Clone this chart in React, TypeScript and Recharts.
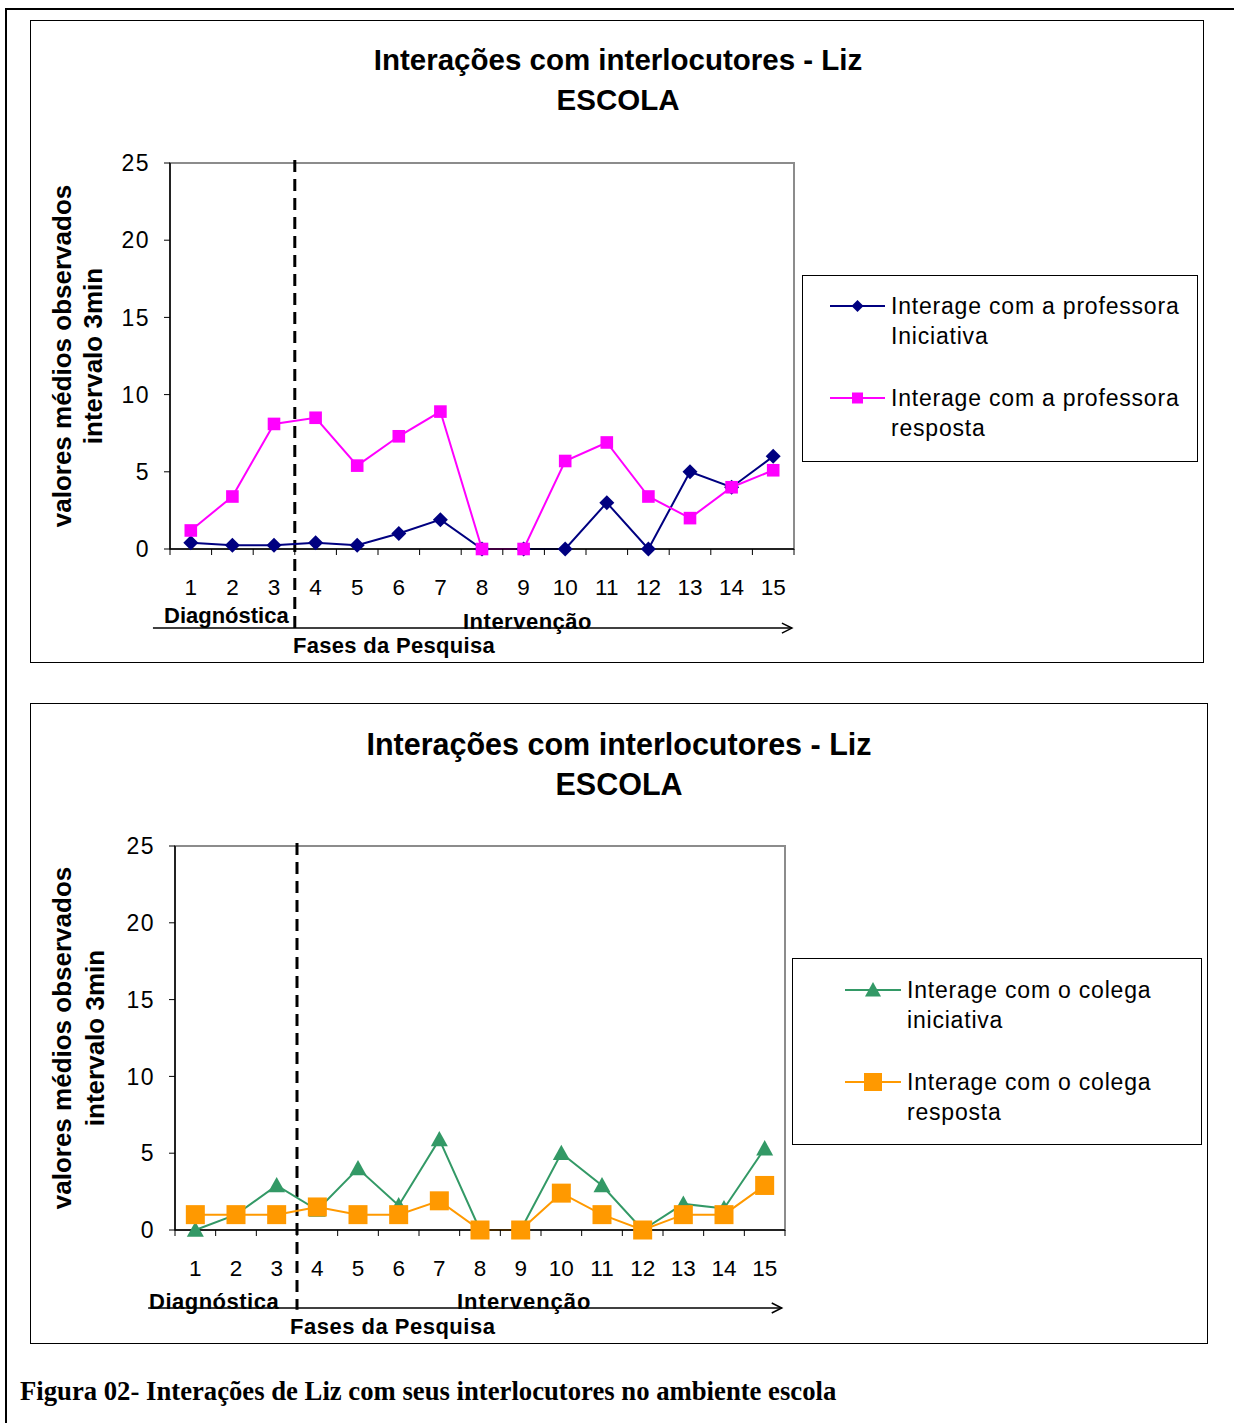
import React from 'react';
import {
  Legend,
  Line,
  LineChart,
  ReferenceArea,
  ReferenceLine,
  XAxis,
  YAxis,
} from 'recharts';

// sessões observadas (eixo x)
const sessions = [1, 2, 3, 4, 5, 6, 7, 8, 9, 10, 11, 12, 13, 14, 15];
const yTicks = [0, 5, 10, 15, 20, 25];

// gráfico 1 - professora
const profIniciativa = [0.4, 0.25, 0.25, 0.4, 0.25, 1, 1.9, 0, 0, 0, 3, 0, 5, 4, 6];
const profResposta = [1.2, 3.4, 8.1, 8.5, 5.4, 7.3, 8.9, 0, 0, 5.7, 6.9, 3.4, 2, 4, 5.1];

// gráfico 2 - colega
const colegaIniciativa = [0, 1, 2.9, 1.3, 4, 1.6, 5.9, 0, 0, 5, 2.9, 0, 1.7, 1.4, 5.3];
const colegaResposta = [1, 1, 1, 1.5, 1, 1, 1.9, 0, 0, 2.4, 1, 0, 1, 1, 2.9];

const chartTitle = 'Interações com interlocutores - Liz';
const chartSubtitle = 'ESCOLA';
const yTitle = ['valores médios observados', 'intervalo 3min'];
const xTitle = 'Fases da Pesquisa';
const phaseNames = ['Diagnóstica', 'Intervenção'];
const caption = 'Figura 02- Interações de Liz com seus interlocutores no ambiente escola';

const FONT = '"Liberation Sans", Arial, sans-serif';

const toRows = (a: number[], b: number[]) =>
  sessions.map((s, i) => ({ sessao: s, a: a[i], b: b[i] }));

const xTicks = [...sessions.flatMap((s) => [s - 0.5, s]), 15.5];

const Marker = ({ kind, cx, cy, r, fill }: any) => {
  if (kind === 'diamond')
    return (
      <polygon
        points={`${cx},${cy - r} ${cx + r},${cy} ${cx},${cy + r} ${cx - r},${cy}`}
        fill={fill}
      />
    );
  if (kind === 'triangle')
    return (
      <polygon
        points={`${cx},${cy - r} ${cx + r},${cy + r * 0.8} ${cx - r},${cy + r * 0.8}`}
        fill={fill}
      />
    );
  return <rect x={cx - r} y={cy - r} width={r * 2} height={r * 2} fill={fill} />;
};

const XTick = ({ x, y, payload }: any) => {
  const v = payload.value;
  if (!Number.isInteger(v)) {
    return <line x1={x} y1={y} x2={x} y2={y + 6} stroke="#000" />;
  }
  return (
    <text
      x={x}
      y={y + 38}
      textAnchor="middle"
      dominantBaseline="central"
      fontSize={22.5}
      fontFamily={FONT}
      fill="#000"
    >
      {v}
    </text>
  );
};

const ArrowShape = (props: any) => {
  const { x1, y1, x2, y2 } = props;
  return (
    <g>
      <line x1={x1} y1={y1} x2={x2} y2={y2} stroke="#000" strokeWidth={1.5} />
      <polyline
        points={`${x2 - 10},${y2 - 5} ${x2},${y2} ${x2 - 10},${y2 + 5}`}
        fill="none"
        stroke="#000"
        strokeWidth={1.5}
      />
    </g>
  );
};

type Series = { name: string; color: string; marker: string; r: number; legendR: number };

const Panel = ({ layout, rows, series }: { layout: any; rows: any[]; series: Series[] }) => {
  const L = layout;
  return (
    <div
      style={{
        position: 'absolute',
        left: L.left,
        top: L.top,
        width: L.width,
        height: L.height,
        border: '1px solid #000',
        boxSizing: 'border-box',
        background: '#fff',
      }}
    >
      <div
        style={{
          position: 'absolute',
          left: 0,
          width: L.titleCenter * 2,
          top: L.titleTop,
          textAlign: 'center',
          fontFamily: FONT,
          fontWeight: 'bold',
          fontSize: L.titleSize,
          lineHeight: '40px',
          color: '#000',
        }}
      >
        {chartTitle}
        <br />
        {chartSubtitle}
      </div>
      <div style={{ position: 'absolute', left: -1, top: -1 }}>
        <LineChart
          width={L.width}
          height={L.height}
          data={rows}
          margin={L.margin}
        >
          <XAxis
            dataKey="sessao"
            type="number"
            domain={[0.5, 15.5]}
            ticks={xTicks}
            interval={0}
            tickSize={0}
            tickMargin={0}
            tickLine={false}
            tick={<XTick />}
            axisLine={{ stroke: '#000', strokeWidth: 1.5 }}
            height={30}
          />
          <YAxis
            type="number"
            domain={[0, 25]}
            ticks={yTicks}
            interval={0}
            width={60}
            tickSize={6}
            tickMargin={14}
            tickLine={{ stroke: '#000' }}
            axisLine={{ stroke: '#000', strokeWidth: 1.5 }}
            tick={{ fontSize: 23, fontFamily: FONT, fill: '#000', letterSpacing: 1.5 }}
            label={{
              content: () => (
                <g>
                  {yTitle.map((t, i) => (
                    <text
                      key={t}
                      x={L.yTitleX[i]}
                      y={L.yTitleY}
                      transform={`rotate(-90 ${L.yTitleX[i]} ${L.yTitleY})`}
                      textAnchor="middle"
                      dominantBaseline="central"
                      fontSize={26}
                      fontWeight="bold"
                      fontFamily={FONT}
                      fill="#000"
                    >
                      {t}
                    </text>
                  ))}
                </g>
              ),
            }}
          />
          <ReferenceArea
            x1={0.5}
            x2={15.5}
            y1={0}
            y2={25}
            fill="none"
            stroke="#8c8c8c"
            strokeWidth={2}
            ifOverflow="visible"
          />
          <ReferenceLine
            segment={[
              { x: 3.5, y: 25.2 },
              { x: 3.5, y: -5.2 },
            ]}
            stroke="#000"
            strokeWidth={3}
            strokeDasharray="12 7"
            ifOverflow="visible"
          />
          <ReferenceLine
            segment={[
              { x: L.arrowFrom, y: L.arrowY },
              { x: L.arrowTo, y: L.arrowY },
            ]}
            ifOverflow="visible"
            shape={<ArrowShape />}
          />
          {series.map((s, idx) => (
            <Line
              key={s.name}
              dataKey={idx === 0 ? 'a' : 'b'}
              name={s.name}
              stroke={s.color}
              strokeWidth={2}
              isAnimationActive={false}
              dot={(p: any) => (
                <Marker key={p.index} kind={s.marker} cx={p.cx} cy={p.cy} r={s.r} fill={s.color} />
              )}
              activeDot={false}
            />
          ))}
          <Legend
            layout="horizontal"
            verticalAlign="middle"
            align="center"
            wrapperStyle={{
              position: 'absolute',
              left: L.legend.left,
              top: L.legend.top,
              width: L.legend.width,
              height: L.legend.height,
              border: '1px solid #000',
              boxSizing: 'border-box',
              background: '#fff',
            }}
            content={() => (
              <div style={{ position: 'relative', width: '100%', height: '100%' }}>
                {series.map((s, i) => (
                  <div
                    key={s.name}
                    style={{ position: 'absolute', left: 0, top: L.legend.itemTops[i] }}
                  >
                    <svg
                      width={L.legend.markerW}
                      height={30}
                      style={{ position: 'absolute', left: L.legend.markerLeft, top: 0 }}
                    >
                      <line x1={0} y1={15} x2={L.legend.markerW} y2={15} stroke={s.color} strokeWidth={2} />
                      <Marker kind={s.marker} cx={L.legend.markerW / 2} cy={15} r={s.legendR} fill={s.color} />
                    </svg>
                    <div
                      style={{
                        position: 'absolute',
                        left: L.legend.textLeft,
                        top: 0,
                        whiteSpace: 'pre',
                        fontFamily: FONT,
                        fontSize: 23,
                        letterSpacing: 0.8,
                        lineHeight: '30px',
                        color: '#000',
                      }}
                    >
                      {s.name}
                    </div>
                  </div>
                ))}
              </div>
            )}
          />
        </LineChart>
      </div>
      {[
        { text: phaseNames[0], ...L.diag },
        { text: phaseNames[1], ...L.interv },
        { text: xTitle, ...L.fases },
      ].map((t) => (
        <div
          key={t.text}
          style={{
            position: 'absolute',
            left: t.x,
            top: t.y - 13,
            lineHeight: '26px',
            fontFamily: FONT,
            fontWeight: 'bold',
            fontSize: 22,
            letterSpacing: t.ls ?? 0,
            whiteSpace: 'nowrap',
            color: '#000',
          }}
        >
          {t.text}
        </div>
      ))}
    </div>
  );
};

const topLayout = {
  left: 30,
  top: 20,
  width: 1174,
  height: 643,
  margin: { top: 143, left: 80, right: 410, bottom: 84 },
  titleCenter: 587,
  titleTop: 19,
  titleSize: 29.5,
  yTitleX: [32, 63],
  yTitleY: 336,
  arrowFrom: 0.09,
  arrowTo: 15.45,
  arrowY: -5.12,
  legend: {
    left: 772,
    top: 255,
    width: 396,
    height: 187,
    itemTops: [15, 107],
    markerLeft: 27,
    markerW: 55,
    textLeft: 88,
  },
  diag: { x: 133, y: 595, ls: 0 },
  interv: { x: 432, y: 601, ls: 0.5 },
  fases: { x: 262, y: 625, ls: 0.3 },
};

const bottomLayout = {
  left: 30,
  top: 703,
  width: 1178,
  height: 641,
  margin: { top: 143, left: 85, right: 423, bottom: 84 },
  titleCenter: 588,
  titleTop: 20,
  titleSize: 30.5,
  yTitleX: [32, 65],
  yTitleY: 335,
  arrowFrom: -0.16,
  arrowTo: 15.42,
  arrowY: -5.08,
  legend: {
    left: 762,
    top: 255,
    width: 410,
    height: 187,
    itemTops: [16, 108],
    markerLeft: 52,
    markerW: 56,
    textLeft: 114,
  },
  diag: { x: 118, y: 598, ls: 0.5 },
  interv: { x: 426, y: 598, ls: 1 },
  fases: { x: 259, y: 623, ls: 0.5 },
};

const profSeries: Series[] = [
  { name: 'Interage com a professora\nIniciativa', color: '#000080', marker: 'diamond', r: 7.5, legendR: 6 },
  { name: 'Interage com a professora\nresposta', color: '#ff00ff', marker: 'square', r: 6.3, legendR: 5.5 },
];

const colegaSeries: Series[] = [
  { name: 'Interage com o colega\niniciativa', color: '#339966', marker: 'triangle', r: 8.5, legendR: 8 },
  { name: 'Interage com o colega\nresposta', color: '#ff9900', marker: 'square', r: 9.5, legendR: 9 },
];

export default function App() {
  return (
    <div
      style={{
        position: 'absolute',
        left: 0,
        top: 0,
        width: 1234,
        height: 1423,
        overflow: 'hidden',
        background: '#fff',
      }}
    >
      <div
        style={{
          position: 'absolute',
          left: 5,
          top: 8,
          width: 1260,
          height: 1440,
          borderTop: '2px solid #000',
          borderLeft: '2px solid #000',
        }}
      />
      <Panel layout={topLayout} rows={toRows(profIniciativa, profResposta)} series={profSeries} />
      <Panel layout={bottomLayout} rows={toRows(colegaIniciativa, colegaResposta)} series={colegaSeries} />
      <div
        style={{
          position: 'absolute',
          left: 20,
          top: 1375,
          lineHeight: '32px',
          fontFamily: '"Liberation Serif", "Times New Roman", serif',
          fontWeight: 'bold',
          fontSize: 26.7,
          whiteSpace: 'nowrap',
          color: '#000',
        }}
      >
        {caption}
      </div>
    </div>
  );
}
